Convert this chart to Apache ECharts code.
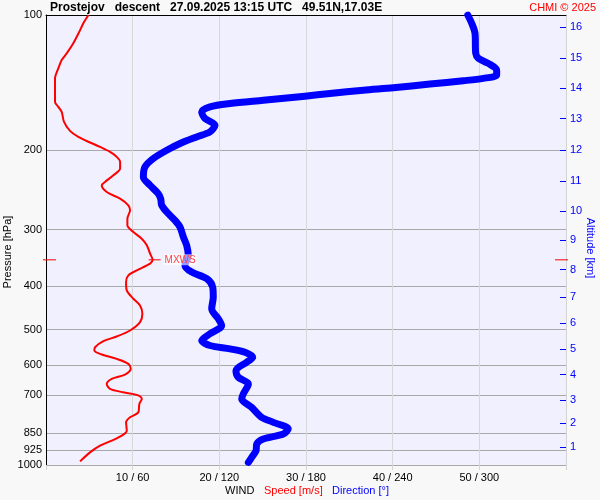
<!DOCTYPE html>
<html><head><meta charset="utf-8">
<script src="https://cdn.jsdelivr.net/npm/echarts@6/dist/echarts.min.js"></script>
<style>html,body{margin:0;padding:0;background:#f8f8f8}#c{width:600px;height:500px}</style>
</head><body><div id="c"></div>
<script>
const titleText = 'Prostejov   descent   27.09.2025 13:15 UTC   49.51N,17.03E';
const copyrightText = 'CHMI \u00a9 2025';
const pressureTicks = [100, 200, 300, 400, 500, 600, 700, 850, 925, 1000];
const speedTicks = [10, 20, 30, 40, 50];
const directionTicks = [60, 120, 180, 240, 300];
const altitudeKm = [16, 15, 14, 13, 12, 11, 10, 9, 8, 7, 6, 5, 4, 3, 2, 1];
const altitudePressure = [106.2, 124.5, 145.1, 169.8, 199.8, 234.1, 272.7, 316.8, 368.1, 423.7, 484.1, 551.9, 629.6, 716.7, 808.0, 913.7];

const speedPressure = [100, 104.3, 108.9, 115.6, 121.7, 125.9, 131.4, 138.3, 156.0, 160.0,
  164.2, 172.8, 180.9, 186.6, 192.0, 196.4, 201.5, 206.7, 212.1, 219.4,
  227.1, 235.0, 239.0, 247.4, 255.9, 264.8, 271.7, 283.5, 293.4, 303.6,
  314.1, 325.0, 339.1, 350.0, 357.0, 369.5, 379.0, 392.3, 409.3, 427.1,
  442.1, 461.3, 481.6, 502.5, 518.2, 530.8, 547.4, 556.7, 568.2, 580.9,
  596.0, 611.4, 629.6, 643.6, 660.3, 677.4, 689.4, 698.6, 713.1, 731.6,
  763.7, 783.5, 803.9, 838.8, 860.6, 883.0, 905.9, 937.5, 981.7];
const speedValues = [4.9, 4.31, 3.85, 3.15, 2.39, 1.81, 1.42, 1.04, 1.04, 1.42,
  1.81, 2.08, 2.77, 3.73, 5.08, 6.24, 7.39, 8.16, 8.55, 8.55,
  7.77, 6.81, 6.43, 7.01, 8.55, 9.50, 9.70, 9.39, 9.39, 10.08,
  11.05, 11.63, 12.01, 12.3, 12.01, 10.47, 9.50, 9.24, 9.32, 10.08,
  10.85, 11.12, 10.85, 9.70, 8.16, 6.62, 5.66, 5.58, 6.43, 8.16,
  9.50, 9.78, 9.12, 7.59, 7.01, 7.39, 8.93, 10.47, 11.05, 10.77,
  10.66, 9.70, 9.24, 9.32, 8.74, 7.59, 6.24, 5.08, 3.93];

const dirPressure = [100, 104.3, 109.8, 121.7, 124.8, 128.1, 132.6, 136.0, 138.3, 140.0,
  142.4, 145.1, 146.9, 149.4, 151.5, 154.7, 157.3, 160.0, 164.2, 169.8,
  175.7, 181.9, 186.6, 193.0, 199.8, 208.4, 217.6, 229.1, 239.0, 249.4,
  255.9, 264.8, 274.0, 286.0, 296.0, 311.5, 325.0, 342.1, 360.1, 372.7,
  385.5, 402.5, 423.7, 449.6, 473.3, 489.8, 511.0, 528.9, 542.6, 551.9,
  561.6, 576.2, 591.1, 616.8, 638.3, 660.3, 695.0, 713.1, 744.4, 783.5,
  803.9, 831.6, 853.2, 875.3, 898.0, 929.4, 961.8, 986.8];
const dirValues = [292.0, 294.7, 297.0, 297.5, 299.3, 306.2, 312.0, 312.0, 302.7, 288.9,
  265.8, 240.4, 219.7, 196.6, 179.3, 150.4, 127.4, 113.5, 107.8, 110.1,
  117.0, 113.5, 104.3, 92.8, 83.6, 74.3, 68.5, 67.4, 72.0, 77.7,
  79.4, 80.1, 83.6, 89.3, 92.8, 95.1, 97.4, 98.5, 96.2, 100.9,
  111.3, 115.4, 115.8, 114.7, 119.3, 121.6, 113.5, 107.8, 113.5, 127.4,
  137.8, 143.1, 138.9, 131.5, 133.1, 140.1, 136.6, 135.5, 142.4, 149.3,
  157.4, 167.7, 164.3, 150.4, 145.9, 145.4, 142.4, 140.1];

const maxWindSpeed = 12.3;
const maxWindPressure = 350;

const FONT = '"Liberation Sans", Arial, sans-serif';
const chart = echarts.init(document.getElementById('c'), null, {renderer: 'canvas'});

function altLabel(v) {
  let best = 0, bd = Infinity;
  altitudePressure.forEach((p, i) => { const d = Math.abs(Math.log(p) - Math.log(v)); if (d < bd) { bd = d; best = i; } });
  return String(altitudeKm[best]);
}

chart.setOption({
  backgroundColor: '#f8f8f8',
  animation: false,
  grid: {left: 46, right: 34, top: 15, bottom: 35, show: true, backgroundColor: '#f0f0fe', borderWidth: 0},
  xAxis: [
    {type: 'value', position: 'bottom', min: 0, max: 60, interval: 10,
     axisLine: {show: false},
     axisTick: {show: true, length: 5, lineStyle: {color: '#d4d4d4'}},
     splitLine: {show: true, lineStyle: {color: '#d8d8d8', width: 1}},
     axisLabel: {margin: 7, color: '#000', fontSize: 11, fontFamily: FONT,
       formatter: v => { const i = speedTicks.indexOf(v); return i >= 0 ? speedTicks[i] + ' / ' + directionTicks[i] : ''; }}},
    {type: 'value', position: 'top', min: 0, max: 360,
     axisLine: {show: true, lineStyle: {color: '#000', width: 1}},
     axisTick: {show: false}, axisLabel: {show: false}, splitLine: {show: false}}
  ],
  yAxis: [
    {type: 'log', logBase: 10, min: 100, max: 1000, inverse: true, position: 'left',
     axisLine: {show: true, lineStyle: {color: '#000', width: 1}},
     axisTick: {show: false, customValues: pressureTicks},
     splitLine: {show: true, lineStyle: {color: '#a8a8a8', width: 1}},
     axisLabel: {customValues: pressureTicks, margin: 4, color: '#000', fontSize: 11, fontFamily: FONT,
       formatter: v => String(Math.round(v))}},
    {type: 'log', logBase: 10, min: 100, max: 1000, inverse: true, position: 'right',
     axisLine: {show: true, onZero: false, lineStyle: {color: '#d4d4d4', width: 1}},
     axisTick: {show: true, inside: true, length: 6, customValues: altitudePressure, lineStyle: {color: '#0000ff', width: 1}},
     splitLine: {show: false},
     axisLabel: {customValues: altitudePressure, margin: 4, color: '#0000ff', fontSize: 11, fontFamily: FONT,
       formatter: v => altLabel(v)}}
  ],
  series: [
    {type: 'line', name: 'Direction', xAxisIndex: 1, yAxisIndex: 0, showSymbol: false, smooth: 0.3,
     data: dirPressure.map((p, i) => [dirValues[i], p]),
     lineStyle: {color: '#0000ff', width: 7, cap: 'round', join: 'round'}, z: 3},
    {type: 'line', name: 'Speed', xAxisIndex: 0, yAxisIndex: 0, showSymbol: false, smooth: 0.3,
     data: speedPressure.map((p, i) => [speedValues[i], p]),
     lineStyle: {color: '#ff0000', width: 2}, z: 4}
  ]
});

const pMax = chart.convertToPixel({xAxisIndex: 0, yAxisIndex: 0}, [maxWindSpeed, maxWindPressure]);
const pL = chart.convertToPixel({xAxisIndex: 0, yAxisIndex: 0}, [0, maxWindPressure]);
const pR = chart.convertToPixel({xAxisIndex: 0, yAxisIndex: 0}, [60, maxWindPressure]);
const pBottom = chart.convertToPixel({xAxisIndex: 0, yAxisIndex: 0}, [0, 1000]);
const y = pMax[1];
chart.setOption({
  graphic: [
    {type: 'text', left: 50, top: 2, style: {text: titleText, font: 'bold 12px ' + FONT, fill: '#000'}},
    {type: 'text', right: 4, top: 2, style: {text: copyrightText, font: '11px ' + FONT, fill: '#ff0000'}},
    {type: 'text', x: 8, y: 252, rotation: Math.PI / 2, style: {text: 'Pressure [hPa]', font: '11px ' + FONT, fill: '#000', align: 'center', verticalAlign: 'middle'}},
    {type: 'text', x: 590, y: 248, rotation: -Math.PI / 2, style: {text: 'Altitude [km]', font: '11px ' + FONT, fill: '#0000ff', align: 'center', verticalAlign: 'middle'}},
    {type: 'text', x: 225, y: 491, style: {text: 'WIND', font: '11px ' + FONT, fill: '#000', verticalAlign: 'middle'}},
    {type: 'text', x: 264, y: 491, style: {text: 'Speed [m/s]', font: '11px ' + FONT, fill: '#ff0000', verticalAlign: 'middle'}},
    {type: 'text', x: 332, y: 491, style: {text: 'Direction [\u00b0]', font: '11px ' + FONT, fill: '#0000ff', verticalAlign: 'middle'}},
    {type: 'line', z: 10, shape: {x1: pL[0] - 3, y1: y, x2: pL[0] + 10, y2: y}, style: {stroke: '#ff0000', lineWidth: 1}},
    {type: 'line', z: 10, shape: {x1: pR[0] - 11, y1: y, x2: pR[0] + 2, y2: y}, style: {stroke: '#ff0000', lineWidth: 1}},
    {type: 'line', z: 10, shape: {x1: pMax[0] - 4, y1: y, x2: pMax[0] + 8, y2: y}, style: {stroke: '#ff0000', lineWidth: 1}},
    {type: 'text', z: 10, x: pMax[0] + 11, y: y, style: {text: 'MXWS', font: '10px ' + FONT, fill: '#ff4040', verticalAlign: 'middle', backgroundColor: 'rgba(255,255,255,0.6)', padding: [1, 1, 0, 1]}}
  ]
});
</script></body></html>
